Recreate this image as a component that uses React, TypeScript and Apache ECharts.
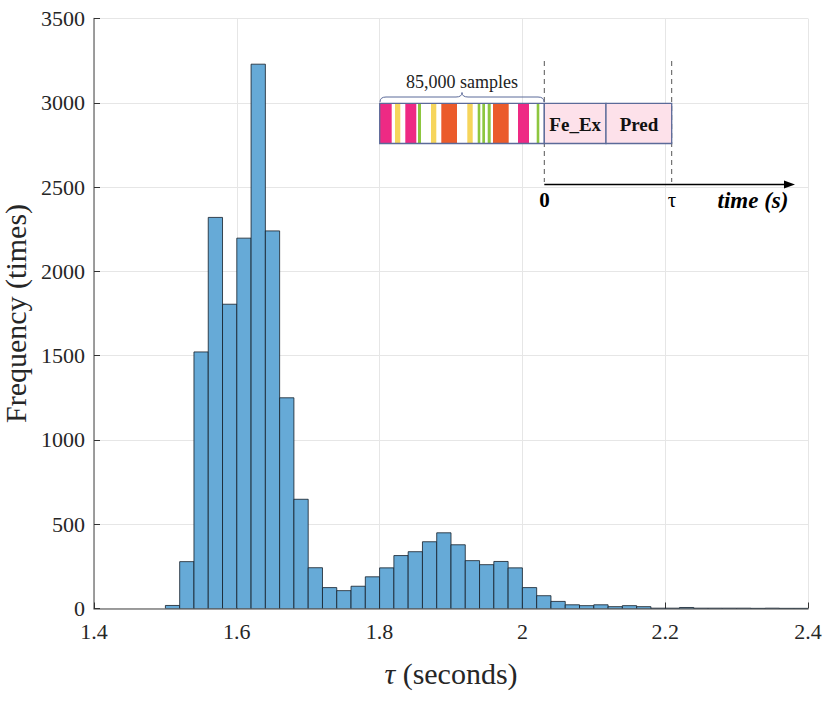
import React, { useEffect, useRef } from "react";
import * as echarts from "echarts";

// ---- Data ----
const BIN_WIDTH = 0.02;
const binLefts = [
  1.5, 1.52, 1.54, 1.56, 1.58, 1.6, 1.62, 1.64, 1.66, 1.68,
  1.7, 1.72, 1.74, 1.76, 1.78, 1.8, 1.82, 1.84, 1.86, 1.88,
  1.9, 1.92, 1.94, 1.96, 1.98, 2.0, 2.02, 2.04, 2.06, 2.08,
  2.1, 2.12, 2.14, 2.16, 2.18, 2.2, 2.22, 2.24, 2.26, 2.28,
  2.3, 2.32, 2.34, 2.36, 2.38,
];
const counts = [
  18, 278, 1522, 2320, 1805, 2197, 3229, 2240, 1250, 648,
  242, 124, 106, 132, 188, 241, 314, 337, 396, 449,
  378, 284, 260, 279, 241, 124, 76, 42, 22, 17,
  22, 11, 17, 11, 2, 2, 6, 2, 2, 2,
  2, 1, 2, 1, 1,
];
const xTicks = [1.4, 1.6, 1.8, 2.0, 2.2, 2.4];
const xTickLabels = ["1.4", "1.6", "1.8", "2", "2.2", "2.4"];
const yTicks = [0, 500, 1000, 1500, 2000, 2500, 3000, 3500];
const yTickLabels = ["0", "500", "1000", "1500", "2000", "2500", "3000", "3500"];

// Inset stripes: [x0, x1, colour]
const stripeColors = {
  m: "#EE2A84",
  y: "#F6D55C",
  g: "#8DC63F",
  o: "#EB5B2B",
};
const stripes: [number, number, string][] = [
  [379.7, 391.7, stripeColors.m],
  [395, 400.3, stripeColors.y],
  [405.3, 416.3, stripeColors.m],
  [418, 421, stripeColors.g],
  [431, 436.3, stripeColors.y],
  [441.3, 457, stripeColors.o],
  [467.3, 472.7, stripeColors.y],
  [477.7, 480.3, stripeColors.g],
  [482.3, 485, stripeColors.g],
  [487.7, 490.7, stripeColors.g],
  [493, 508.7, stripeColors.o],
  [518, 529, stripeColors.m],
  [536.7, 539.3, stripeColors.g],
];

const SERIF = '"Liberation Serif", "DejaVu Serif", serif';

export default function App() {
  const ref = useRef<HTMLDivElement>(null);

  useEffect(() => {
    if (!ref.current) return;
    const chart = echarts.init(ref.current, null, { renderer: "svg" });

    const braceD =
      "M380,102 Q380,97 386,97 L456,97 Q462,97 462,92.5 Q462,97 468,97 L538,97 Q544,97 544,102";
    echarts.graphic.registerShape("brace", echarts.graphic.extendPath(braceD, {}));

    const data = binLefts.map((l, i) => [l, +(l + BIN_WIDTH).toFixed(2), counts[i]]);

    const boxTop = 103.3;
    const boxBot = 143.5;
    const graphics: any[] = [];
    graphics.push({
      type: "rect",
      shape: { x: 379.7, y: boxTop, width: 544.3 - 379.7, height: boxBot - boxTop },
      style: { fill: "#ffffff" },
      z: 100,
    });
    stripes.forEach(([a, b, c]) => {
      graphics.push({
        type: "rect",
        shape: { x: a, y: boxTop, width: b - a, height: boxBot - boxTop },
        style: { fill: c },
        z: 101,
      });
    });
    graphics.push({
      type: "rect",
      shape: { x: 379.7, y: boxTop, width: 544.3 - 379.7, height: boxBot - boxTop },
      style: { fill: "none", stroke: "#5B6A99", lineWidth: 1.3 },
      z: 102,
    });
    graphics.push({
      type: "rect",
      shape: { x: 544.3, y: boxTop, width: 606 - 544.3, height: boxBot - boxTop },
      style: { fill: "#FDE1EA", stroke: "#5B6A99", lineWidth: 1.3 },
      z: 102,
    });
    graphics.push({
      type: "rect",
      shape: { x: 606, y: boxTop, width: 671.7 - 606, height: boxBot - boxTop },
      style: { fill: "#FDE1EA", stroke: "#5B6A99", lineWidth: 1.3 },
      z: 102,
    });
    graphics.push({
      type: "text",
      x: 575.2,
      y: 124,
      style: {
        text: "Fe_Ex",
        fontFamily: SERIF,
        fontWeight: "bold",
        fontSize: 19,
        fill: "#111",
        align: "center",
        verticalAlign: "middle",
      },
      z: 103,
    });
    graphics.push({
      type: "text",
      x: 639,
      y: 124,
      style: {
        text: "Pred",
        fontFamily: SERIF,
        fontWeight: "bold",
        fontSize: 19,
        fill: "#111",
        align: "center",
        verticalAlign: "middle",
      },
      z: 103,
    });
    graphics.push({
      type: "brace",
      x: 0,
      y: 0,
      scaleX: 1,
      scaleY: 1,
      style: { fill: "none", stroke: "#5B6A99", lineWidth: 1 },
      z: 103,
    });
    graphics.push({
      type: "text",
      x: 462,
      y: 82,
      style: {
        text: "85,000 samples",
        fontFamily: SERIF,
        fontSize: 18,
        fill: "#222",
        align: "center",
        verticalAlign: "middle",
      },
      z: 103,
    });
    [544.3, 671.7].forEach((x) => {
      graphics.push({
        type: "line",
        shape: { x1: x, y1: 61, x2: x, y2: 182 },
        style: { stroke: "#555", lineWidth: 1, lineDash: [5, 4] },
        z: 99,
      });
    });
    graphics.push({
      type: "line",
      shape: { x1: 544.3, y1: 184.5, x2: 788, y2: 184.5 },
      style: { stroke: "#000", lineWidth: 1.6 },
      z: 103,
    });
    graphics.push({
      type: "polygon",
      shape: { points: [[795, 184.5], [784, 180.5], [784, 188.5]] },
      style: { fill: "#000" },
      z: 103,
    });
    graphics.push({
      type: "text",
      x: 544.5,
      y: 200,
      style: {
        text: "0",
        fontFamily: SERIF,
        fontWeight: "bold",
        fontSize: 21,
        fill: "#000",
        align: "center",
        verticalAlign: "middle",
      },
      z: 103,
    });
    graphics.push({
      type: "text",
      x: 672,
      y: 200,
      style: {
        text: "τ",
        fontFamily: SERIF,
        fontSize: 21,
        fill: "#000",
        align: "center",
        verticalAlign: "middle",
      },
      z: 103,
    });
    graphics.push({
      type: "text",
      x: 753,
      y: 200,
      style: {
        text: "time (s)",
        fontFamily: SERIF,
        fontWeight: "bold",
        fontStyle: "italic",
        fontSize: 23,
        fill: "#000",
        align: "center",
        verticalAlign: "middle",
      },
      z: 103,
    });

    const option: any = {
      animation: false,
      backgroundColor: "#ffffff",
      textStyle: { fontFamily: SERIF },
      grid: {
        left: 94,
        right: 23,
        top: 18.5,
        bottom: 92.5,
        containLabel: false,
        outerBoundsMode: "none",
      },
      xAxis: {
        type: "value",
        min: xTicks[0],
        max: xTicks[xTicks.length - 1],
        interval: 0.2,
        name: "{i|τ} (seconds)",
        nameLocation: "middle",
        nameGap: 50,
        nameTextStyle: {
          fontFamily: SERIF,
          fontSize: 30,
          color: "#262626",
          rich: {
            i: { fontFamily: SERIF, fontSize: 30, fontStyle: "italic", color: "#262626" },
          },
        },
        axisLine: { show: true, onZero: false, lineStyle: { color: "#7f7f7f", width: 1.5 } },
        axisTick: { show: true, inside: true, length: 6, lineStyle: { color: "#333", width: 1 } },
        axisLabel: {
          fontFamily: SERIF,
          fontSize: 22,
          color: "#262626",
          margin: 12,
          formatter: (v: number) => {
            const idx = xTicks.findIndex((t) => Math.abs(t - v) < 1e-6);
            return idx >= 0 ? xTickLabels[idx] : "";
          },
        },
        splitLine: { show: true, lineStyle: { color: "#e6e6e6", width: 1 } },
      },
      yAxis: {
        type: "value",
        min: yTicks[0],
        max: yTicks[yTicks.length - 1],
        interval: 500,
        name: "Frequency (times)",
        nameLocation: "middle",
        nameGap: 62,
        nameTextStyle: { fontFamily: SERIF, fontSize: 30, color: "#262626" },
        axisLine: { show: true, lineStyle: { color: "#7f7f7f", width: 1.5 } },
        axisTick: { show: true, inside: true, length: 6, lineStyle: { color: "#333", width: 1 } },
        axisLabel: {
          fontFamily: SERIF,
          fontSize: 22,
          color: "#262626",
          margin: 9,
          formatter: (v: number) => {
            const idx = yTicks.findIndex((t) => Math.abs(t - v) < 1e-6);
            return idx >= 0 ? yTickLabels[idx] : "";
          },
        },
        splitLine: { show: true, lineStyle: { color: "#e6e6e6", width: 1 } },
      },
      series: [
        {
          type: "custom",
          data,
          encode: { x: [0, 1], y: 2 },
          clip: true,
          renderItem: (params: any, api: any) => {
            const x0 = api.value(0);
            const x1 = api.value(1);
            const c = api.value(2);
            const pTop = api.coord([x0, c]);
            const pBot = api.coord([x1, 0]);
            return {
              type: "rect",
              shape: {
                x: pTop[0],
                y: pTop[1],
                width: pBot[0] - pTop[0],
                height: pBot[1] - pTop[1],
              },
              style: {
                fill: "#66AAD7",
                stroke: "rgba(20,30,40,0.8)",
                lineWidth: 1,
              },
            };
          },
          z: 3,
        },
      ],
      graphic: graphics,
    };

    chart.setOption(option);
    return () => chart.dispose();
  }, []);

  return (
    <div
      ref={ref}
      style={{ position: "fixed", left: 0, top: 0, width: 831, height: 701, background: "#fff" }}
    />
  );
}
